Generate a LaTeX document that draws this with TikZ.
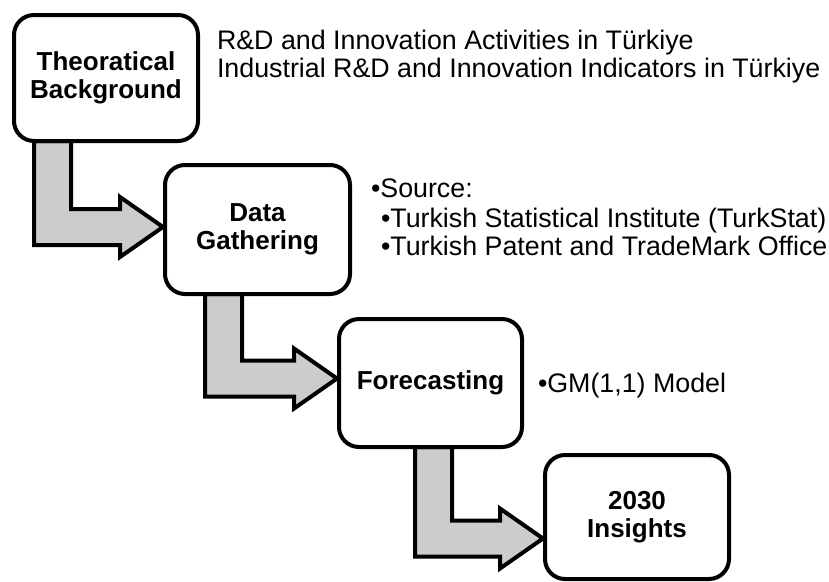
\documentclass[tikz,border=0pt]{standalone}
\usepackage{fontspec}
\setmainfont{Liberation Sans}
\usetikzlibrary{calc}
\pgfdeclarelayer{bg}
\pgfsetlayers{bg,main}
\tikzset{
  stage/.style={draw=black, fill=white, line width=4pt, rounded corners=20pt,
    inner sep=0pt, outer sep=0pt, align=center,
    font=\fontsize{26}{28}\selectfont\bfseries},
  note/.style={inner sep=0pt, outer sep=0pt, anchor=base west,
    font=\fontsize{26.8}{28}\selectfont},
  bent/.style={draw=black, fill=gray!40, line width=4pt, line join=miter},
}
% #1 source, #2 target, #3 stem offset from source west, #4 depth of shaft centre below source bottom
\newcommand\bendarrow[4]{%
  \coordinate (ta) at ($(#1.south west)+(#3,#4)$);
  \coordinate (tb) at ($(#2.west |- ta)+(-2,0)$);
  \draw[bent] ($(#1.south west)+(#3,0)$) -- ++(37,0) -- ($(ta)+(37,-18)$)
    -- ($(tb)+(-43,-18)$) -- ($(tb)+(-43,-30)$) -- (tb)
    -- ($(tb)+(-43,30)$) -- ($(tb)+(-43,18)$) -- ($(ta)+(0,18)$) -- cycle;
}
\begin{document}
\begin{tikzpicture}[x=1pt,y=-1pt]
\useasboundingbox (0,0) rectangle (829,581);
\node[stage, minimum width=184pt, minimum height=126pt] (b1) at (106,78) {Theoratical\\Background};
\node[stage, minimum width=185pt, minimum height=129pt] (b2) at (257.5,229.5) {Data\\Gathering};
\node[stage, minimum width=183pt, minimum height=128pt] (b3) at (430.5,383) {Forecasting};
\node[stage, minimum width=184pt, minimum height=124pt] (b4) at (637,517) {2030\\Insights};
\begin{pgfonlayer}{bg}
\bendarrow{b1}{b2}{20}{86}
\bendarrow{b2}{b3}{40}{84.5}
\bendarrow{b3}{b4}{76}{91.5}
\end{pgfonlayer}
\node[note] (n1) at (217,49.5) {R\&D and Innovation Activities in Türkiye};
\node[note] (n2) at (217,77) {Industrial R\&D and Innovation Indicators in Türkiye};
\node[note] (s0) at (371,197) {•Source:};
\node[note] (s1) at (381,227) {•Turkish Statistical Institute (TurkStat)};
\node[note] (s2) at (381,255) {•Turkish Patent and TradeMark Office};
\node[note] (g1) at (538,392) {•GM(1,1) Model};
\end{tikzpicture}
\end{document}
